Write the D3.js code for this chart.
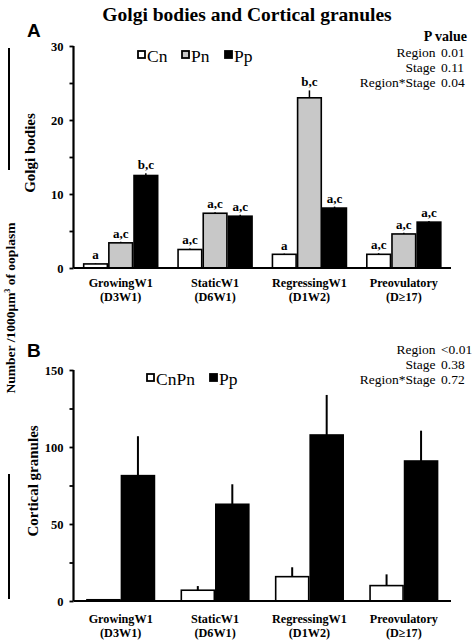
<!DOCTYPE html>
<html><head><meta charset="utf-8">
<script src="https://cdn.jsdelivr.net/npm/d3@7"></script>
<style>body{margin:0;background:#fff}svg{display:block}</style>
</head><body>
<script>
// ---- data ----
const categories = ["GrowingW1", "StaticW1", "RegressingW1", "Preovulatory"];
const categoryCodes = ["(D3W1)", "(D6W1)", "(D1W2)", "(D≥17)"];

const golgiSeries = ["Cn", "Pn", "Pp"];
const golgiCn = [0.55, 2.5, 1.85, 1.85];
const golgiCnErr = [0.1, 0.15, 0.1, 0.15];
const golgiPn = [3.4, 7.4, 23.0, 4.6];
const golgiPnErr = [0.15, 0.15, 1.0, 0.15];
const golgiPp = [12.5, 7.0, 8.1, 6.2];
const golgiPpErr = [0.3, 0.2, 0.2, 0.15];
const golgiCnLetters = ["a", "a,c", "a", "a,c"];
const golgiPnLetters = ["a,c", "a,c", "b,c", "a,c"];
const golgiPpLetters = ["b,c", "a,c", "a,c", "a,c"];
const golgiTicks = [0, 5, 10, 15, 20, 25, 30];
const golgiPLabels = ["Region", "Stage", "Region*Stage"];
const golgiPValues = ["0.01", "0.11", "0.04"];

const cgSeries = ["CnPn", "Pp"];
const cgCnPn = [0.8, 7.0, 15.8, 10.0];
const cgCnPnErr = [0, 2.7, 6.1, 7.3];
const cgPp = [81.4, 62.8, 107.8, 90.9];
const cgPpErr = [25.6, 13.0, 26.0, 19.7];
const cgTicks = [0, 25, 50, 75, 100, 125, 150];
const cgPLabels = ["Region", "Stage", "Region*Stage"];
const cgPValues = ["<0.01", "0.38", "0.72"];

// ---- drawing ----
const W = 472, H = 641;
const serif = "'Liberation Serif','Times New Roman',serif";
const sans = "'Liberation Sans',Arial,sans-serif";
const fills = {Cn: "#fff", Pn: "#c8c8c8", Pp: "#000", CnPn: "#fff"};

const svg = d3.select("body").append("svg").attr("width", W).attr("height", H)
  .style("font-family", serif);

svg.append("text").attr("x", 247).attr("y", 21).attr("text-anchor", "middle")
  .attr("font-size", 19.5).attr("font-weight", "bold").text("Golgi bodies and Cortical granules");

// common y label
const yl = svg.append("text").attr("transform", "translate(15,308) rotate(-90)")
  .attr("text-anchor", "middle").attr("font-size", 13.5).attr("font-weight", "bold");
yl.append("tspan").text("Number /1000μm");
yl.append("tspan").attr("font-size", 8).attr("dy", -5).text("3");
yl.append("tspan").attr("dy", 5).text(" of ooplasm");

// bracket lines
svg.append("line").attr("x1", 9).attr("x2", 9).attr("y1", 48).attr("y2", 170).attr("stroke", "#000").attr("stroke-width", 2);
svg.append("line").attr("x1", 9).attr("x2", 9).attr("y1", 474).attr("y2", 599).attr("stroke", "#000").attr("stroke-width", 2);

const x = d3.scaleBand().domain(categories).range([73.5, 451]).paddingInner(0.2).paddingOuter(0.1);

function panel(opts) {
  const g = svg.append("g");
  const y = d3.scaleLinear().domain(opts.domain).range(opts.yRange);
  const sub = d3.scaleBand().domain(opts.series).range(opts.subRange);

  opts.series.forEach((s, si) => {
    const vals = opts.values[si], errs = opts.errs[si];
    const bx = i => x(categories[i]) + sub(s);
    g.selectAll(null).data(vals).join("line")
      .attr("x1", (d, i) => bx(i) + sub.bandwidth() / 2)
      .attr("x2", (d, i) => bx(i) + sub.bandwidth() / 2)
      .attr("y1", d => y(d)).attr("y2", (d, i) => y(d + errs[i]))
      .attr("stroke", "#000").attr("stroke-width", opts.errWidth);
    g.selectAll(null).data(vals).join("rect")
      .attr("x", (d, i) => bx(i) + 0.75).attr("width", sub.bandwidth() - 1.5)
      .attr("y", d => y(d)).attr("height", d => y(0) - y(d))
      .attr("fill", fills[s]).attr("stroke", "#000").attr("stroke-width", 1.6);
    if (opts.letters) {
      g.selectAll(null).data(vals).join("text")
        .attr("x", (d, i) => bx(i) + sub.bandwidth() / 2)
        .attr("y", (d, i) => y(d + errs[i]) - 4)
        .attr("text-anchor", "middle").attr("font-size", 13).attr("font-weight", "bold")
        .text((d, i) => opts.letters[si][i]);
    }
  });

  // y axis
  const ya = g.append("g").attr("transform", `translate(${opts.x0},0)`)
    .call(d3.axisLeft(y).tickValues(opts.ticks).tickSize(4).tickPadding(6)
      .tickFormat(d => opts.labelTicks.includes(d) ? d : ""));
  ya.select(".domain").attr("stroke-width", 2.2).attr("d", `M0,${opts.yRange[1]}V${opts.yRange[0]}`);
  ya.selectAll(".tick line").attr("stroke-width", 1.8);
  ya.selectAll(".tick text").attr("font-family", serif).attr("font-size", 12.5).attr("font-weight", "bold").attr("fill", "#000");

  // x axis
  const xa = g.append("g").attr("transform", `translate(0,${opts.yRange[0]})`)
    .call(d3.axisBottom(x).tickSize(0).tickPadding(opts.xPad).tickFormat(""));
  xa.select(".domain").attr("stroke-width", 2.2).attr("d", `M${opts.x0},0H451`);
  xa.selectAll(".tick text").each(function(d) {
    const t = d3.select(this).attr("font-family", serif).attr("font-size", 12.2)
      .attr("font-weight", "bold").attr("fill", "#000").attr("dy", "0.71em");
    t.append("tspan").attr("x", 0).text(d);
    t.append("tspan").attr("x", 0).attr("dy", "1.2em").text(categoryCodes[categories.indexOf(d)]);
  });

  // panel letter
  svg.append("text").attr("x", 27).attr("y", opts.letterY).attr("font-family", sans)
    .attr("font-size", 19).attr("font-weight", "bold").text(opts.letter);

  // side label
  svg.append("text").attr("transform", `translate(${opts.sideX},${opts.sideY}) rotate(-90)`)
    .attr("text-anchor", "middle").attr("font-size", 15).attr("font-weight", "bold").text(opts.side);

  // legend
  opts.series.forEach((s, si) => {
    const lx = opts.legendX[si];
    svg.append("rect").attr("x", lx).attr("y", opts.legendY - 11).attr("width", 7).attr("height", 7)
      .attr("fill", fills[s]).attr("stroke", "#000").attr("stroke-width", 1.8);
    svg.append("text").attr("x", lx + 9).attr("y", opts.legendY).attr("font-size", 17.5).text(s);
  });

  // P values
  if (opts.pTitle) {
    svg.append("text").attr("x", 467).attr("y", opts.pY - 16).attr("text-anchor", "end")
      .attr("font-size", 14).attr("font-weight", "bold").text("P value");
  }
  opts.pLabels.forEach((l, i) => {
    svg.append("text").attr("x", 435.5).attr("y", opts.pY + i * 15).attr("text-anchor", "end")
      .attr("font-size", 13.5).text(l);
    svg.append("text").attr("x", 441).attr("y", opts.pY + i * 15).attr("font-size", 13.5).text(opts.pValues[i]);
  });
}

const bw = x.bandwidth();
panel({
  domain: [0, 30], yRange: [268, 46], x0: 73.5,
  series: golgiSeries, subRange: [0, bw],
  values: [golgiCn, golgiPn, golgiPp], errs: [golgiCnErr, golgiPnErr, golgiPpErr],
  letters: [golgiCnLetters, golgiPnLetters, golgiPpLetters],
  errWidth: 1.5, ticks: golgiTicks, labelTicks: [0, 10, 20, 30], xPad: 10,
  letter: "A", letterY: 37, side: "Golgi bodies", sideX: 35, sideY: 153,
  legendX: [138, 182, 225], legendY: 62,
  pTitle: true, pLabels: golgiPLabels, pValues: golgiPValues, pY: 57
});
panel({
  domain: [0, 150], yRange: [601, 370], x0: 73.5,
  series: cgSeries, subRange: [bw / 2 - 34.5, bw / 2 + 34.5],
  values: [cgCnPn, cgPp], errs: [cgCnPnErr, cgPpErr], letters: null,
  errWidth: 2, ticks: cgTicks, labelTicks: [0, 50, 100, 150], xPad: 13,
  letter: "B", letterY: 357, side: "Cortical granules", sideX: 38, sideY: 481,
  legendX: [147, 210], legendY: 385,
  pTitle: false, pLabels: cgPLabels, pValues: cgPValues, pY: 354
});
</script>
</body></html>
